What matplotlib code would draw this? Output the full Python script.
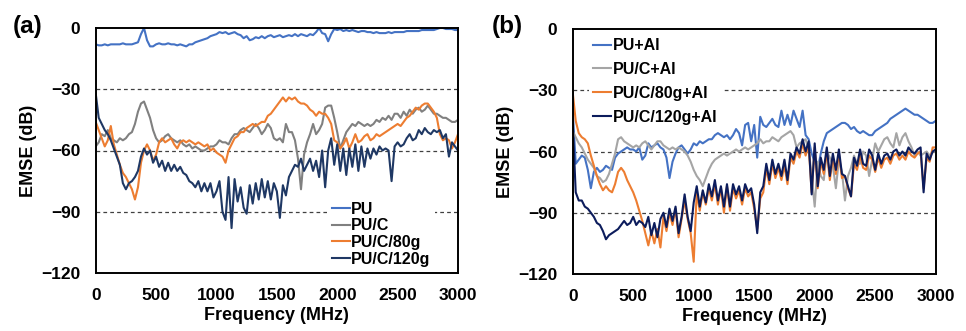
import matplotlib
matplotlib.use("Agg")
import matplotlib.pyplot as plt
import numpy as np

plt.rcParams['font.family'] = ['Liberation Sans', 'DejaVu Sans']
plt.rcParams['font.weight'] = 'bold'

# Frequency grid (MHz), 25 MHz steps
FREQ = list(range(0, 3001, 25))

# ---------------- Panel (a) ----------------
a_PU = [
    -8, -8.5, -8.5, -8, -8.5, -8, -8, -8, -8, -7.5,
    -8, -8, -8, -7.5, -7, -3, 0, -6, -9, -9,
    -8, -7.5, -8, -8, -7.5, -8, -8, -8.5, -8, -8.5,
    -9, -8, -8, -7, -6.5, -6, -5.5, -5, -4, -3.5,
    -3, -2, -2.5, -2, -3, -2.5, -2, -3, -3.5, -5,
    -4, -6, -5.5, -4.5, -5, -4, -5, -4, -3.5, -4.5,
    -4, -3.5, -4.5, -4, -3.5, -4, -3, -4, -3, -3.5,
    -4, -3, -3.5, -2, 0, -2.5, -3, -6.5, -3, -0.5,
    -1, -0.5, -1.5, -1, -1.5, -1, -1.5, -2, -1.5, -1.5,
    -2, -2, -2.5, -2, -2.5, -2.5, -2.5, -2, -2.5, -2,
    -2, -2, -2, -1.5, -1.5, -1.5, -1.5, -1.5, -1, -1,
    -1, -1, -1, -0.5, 0, 0, -0.5, -0.5, -0.5, -1,
    -1]
a_PUC = [
    -58, -56, -52, -53, -50, -54, -55, -56, -54, -55,
    -54, -52, -51, -47, -41, -37, -36, -40, -44, -50,
    -54, -56, -55, -53, -52, -54, -55, -56, -55, -57,
    -58, -57, -59, -58, -59, -60, -60, -59, -58, -58,
    -57, -55, -56, -56, -57, -54, -52, -52, -50, -49,
    -50, -51, -49, -47, -49, -52, -50, -47, -49, -54,
    -55, -54, -56, -47, -51, -51, -55, -64, -79, -62,
    -56, -52, -47, -52, -50, -47, -39, -38, -38, -44,
    -51, -59, -55, -51, -49, -47, -48, -46, -47, -48,
    -47, -48, -47, -45, -46, -44, -45, -43, -45, -42,
    -42, -44, -41, -43, -40, -42, -40, -39, -41, -40,
    -38, -40, -42, -42, -43, -44, -44, -45, -46, -46,
    -45]
a_PUC80 = [
    -46, -50, -54, -58, -55, -48, -57, -62, -67, -71,
    -73, -76, -79, -84, -78, -66, -60, -57, -60, -65,
    -62, -56, -54, -56, -55, -54, -57, -59, -56, -55,
    -56, -55, -56, -57, -56, -57, -58, -57, -60, -59,
    -61, -62, -63, -66, -60, -57, -54, -53, -51, -51,
    -49, -48, -47, -48, -47, -46, -46, -43, -42, -40,
    -38, -36, -34, -36, -34, -35, -34, -36, -37, -37,
    -38, -40, -41, -43, -41, -42, -42, -44, -47, -55,
    -56, -59, -57, -54, -59, -56, -52, -56, -55, -53,
    -52, -55, -54, -52, -53, -52, -51, -50, -49, -48,
    -47, -48, -46, -44, -43, -41, -39, -40, -38, -37,
    -37, -39, -41, -44, -52, -55, -54, -55, -59, -56,
    -52]
a_PUC120 = [
    -32, -44, -47, -50, -52, -55, -59, -63, -67, -76,
    -79, -76, -75, -73, -70, -63, -59, -62, -60, -66,
    -63, -68, -65, -70, -66, -70, -67, -70, -68, -71,
    -72, -75, -76, -78, -75, -80, -76, -80, -76, -83,
    -80, -75, -90, -94, -73, -98, -74, -85, -78, -88,
    -91, -77, -86, -76, -84, -74, -83, -75, -84, -76,
    -80, -93, -77, -82, -73, -70, -67, -68, -64, -70,
    -67, -64, -70, -65, -73, -60, -78, -60, -54, -67,
    -57, -70, -59, -72, -59, -68, -57, -70, -58, -68,
    -59, -64, -59, -62, -58, -60, -59, -60, -75, -58,
    -56, -58, -57, -54, -52, -55, -54, -50, -52, -49,
    -51, -52, -50, -51, -50, -54, -52, -63, -56, -58,
    -60]

# ---------------- Panel (b) ----------------
b_PU = [
    -40, -66, -64, -62, -63, -69, -78, -70, -68, -70,
    -69, -67, -68, -69, -63, -61, -60, -59, -58, -59,
    -59, -60, -58, -64, -62, -56, -58, -57, -56, -58,
    -59, -63, -73, -65, -61, -58, -57, -59, -61, -59,
    -56, -57, -55, -56, -55, -54, -54, -52, -51, -52,
    -53, -52, -54, -52, -49, -51, -57, -47, -46, -55,
    -47, -63, -43, -47, -48, -46, -44, -47, -48, -40,
    -47, -42, -47, -40, -44, -48, -40, -52, -54, -61,
    -65, -69, -61, -55, -51, -50, -49, -48, -47, -46,
    -46, -47, -49, -48, -50, -51, -50, -51, -52, -52,
    -50, -49, -48, -47, -46, -44, -43, -42, -41, -40,
    -39, -40, -41, -42, -42, -43, -44, -45, -46, -46,
    -45]
b_PUC = [
    -50, -53, -56, -58, -61, -64, -66, -68, -72, -73,
    -75, -74, -71, -66, -61, -54, -53, -55, -56, -57,
    -58, -57, -58, -56, -55, -57, -59, -57, -55, -55,
    -57, -58, -59, -58, -59, -58, -59, -60, -62, -65,
    -69, -72, -74, -77, -73, -69, -66, -64, -63, -62,
    -61, -62, -61, -60, -59, -60, -59, -58, -59, -58,
    -57, -56, -54, -56, -55, -55, -53, -54, -55, -53,
    -52, -51, -50, -52, -58, -56, -55, -54, -59, -72,
    -87, -65, -72, -74, -60, -63, -67, -78, -64, -70,
    -84, -72, -68, -62, -66, -66, -60, -62, -72, -64,
    -56, -60, -57, -54, -53, -56, -58, -51, -57, -53,
    -51, -55, -58, -62, -60, -62, -61, -60, -62, -60,
    -60]
b_PUC80 = [
    -31, -45, -51, -53, -54, -56, -62, -67, -72, -76,
    -79, -77, -79, -80, -76, -70, -68, -70, -74, -77,
    -80, -84, -89, -94, -100, -106, -99, -105, -98, -107,
    -92, -99, -90, -96, -88, -102, -93, -84, -93, -100,
    -114, -80, -89, -80, -86, -78, -84, -76, -86, -78,
    -90, -77, -89, -78, -83, -79, -86, -78, -82, -80,
    -88, -98, -83, -80, -68, -76, -66, -73, -68, -74,
    -67, -76, -63, -66, -60, -63, -56, -62, -57, -80,
    -58, -78, -65, -71, -60, -74, -63, -71, -61, -73,
    -72, -78, -82, -66, -69, -62, -68, -69, -62, -64,
    -70, -63, -68, -64, -63, -66, -62, -61, -64, -62,
    -64, -60, -62, -63, -61, -60, -78, -63, -65, -58,
    -58]
b_PUC120 = [
    -46, -80, -84, -84, -87, -88, -90, -92, -95, -96,
    -99, -103, -101, -100, -99, -98, -96, -94, -96, -95,
    -92, -96, -94, -95, -97, -92, -101, -95, -102, -93,
    -90, -97, -88, -94, -87, -100, -92, -81, -92, -99,
    -85, -77, -87, -79, -85, -76, -82, -74, -84, -77,
    -87, -76, -87, -76, -81, -77, -84, -76, -80, -78,
    -86, -100, -80, -77, -66, -74, -64, -71, -66, -72,
    -64, -74, -61, -64, -58, -61, -54, -60, -55, -81,
    -56, -77, -63, -69, -58, -72, -61, -69, -59, -71,
    -72, -77, -82, -63, -67, -59, -66, -67, -59, -62,
    -69, -61, -66, -62, -61, -64, -60, -59, -62, -60,
    -62, -58, -60, -61, -59, -58, -80, -61, -64, -60,
    -59]

labels_a = ["PU", "PU/C", "PU/C/80g", "PU/C/120g"]
labels_b = ["PU+Al", "PU/C+Al", "PU/C/80g+Al", "PU/C/120g+Al"]
colors_a = ["#4472C4", "#808080", "#ED7D31", "#1F3864"]
colors_b = ["#4472C4", "#A5A5A5", "#ED7D31", "#0C1C5C"]
yticks = [0, -30, -60, -90, -120]
xticks = [0, 500, 1000, 1500, 2000, 2500, 3000]
gridlevels = [-30, -60, -90]

W, H = 966, 331
fig = plt.figure(figsize=(W / 100, H / 100), dpi=100)

def px_axes(l, t, r, b):
    return fig.add_axes([l / W, 1 - b / H, (r - l) / W, (b - t) / H])

axA = px_axes(95.7, 28, 458, 273)
axB = px_axes(572.7, 29, 935.7, 274)

def style(ax):
    ax.set_xlim(0, 3000)
    ax.set_ylim(-120, 0)
    ax.set_xticks(xticks)
    ax.set_yticks(yticks)
    ax.tick_params(length=0, pad=11, labelsize=12.5)
    for lab in ax.get_xticklabels() + ax.get_yticklabels():
        lab.set_fontweight('bold')
    for s in ax.spines.values():
        s.set_linewidth(1.4)
        s.set_color('black')
    for g in gridlevels:
        ax.axhline(g, color='#404040', lw=0.9, ls=(0, (3, 2.5)), zorder=0.5)
    ax.set_xlabel("Frequency (MHz)", fontsize=13, fontweight='bold', labelpad=3)
    ax.set_ylabel("EMSE (dB)", fontsize=13, fontweight='bold', labelpad=3)

for ax, series, labels, colors in [
        (axA, [a_PU, a_PUC, a_PUC80, a_PUC120], labels_a, colors_a),
        (axB, [b_PU, b_PUC, b_PUC80, b_PUC120], labels_b, colors_b)]:
    for vals, lab, col in zip(series, labels, colors):
        ax.plot(FREQ, vals, color=col, lw=1.5, label=lab, zorder=2)
    style(ax)

legA = axA.legend(loc='lower left', bbox_to_anchor=(0.635, 0.0), fontsize=11.5,
                  frameon=True, facecolor='white', edgecolor='none', framealpha=1,
                  handlelength=1.1, handletextpad=0.1, labelspacing=0.1,
                  borderpad=0.3, borderaxespad=0.1)
legB = axB.legend(loc='upper left', bbox_to_anchor=(0.035, 0.995), fontsize=11.5,
                  frameon=True, facecolor='white', edgecolor='none', framealpha=1,
                  handlelength=1.1, handletextpad=0.1, labelspacing=0.55,
                  borderpad=0.3, borderaxespad=0.2)
for leg in (legA, legB):
    for t in leg.get_texts():
        t.set_fontweight('bold')

fig.text(13 / W, 1 - 26 / H, "(a)", fontsize=17.5, fontweight='bold', va='center', ha='left')
fig.text(492 / W, 1 - 26 / H, "(b)", fontsize=17.5, fontweight='bold', va='center', ha='left')

fig.savefig("out.png", dpi=100)
